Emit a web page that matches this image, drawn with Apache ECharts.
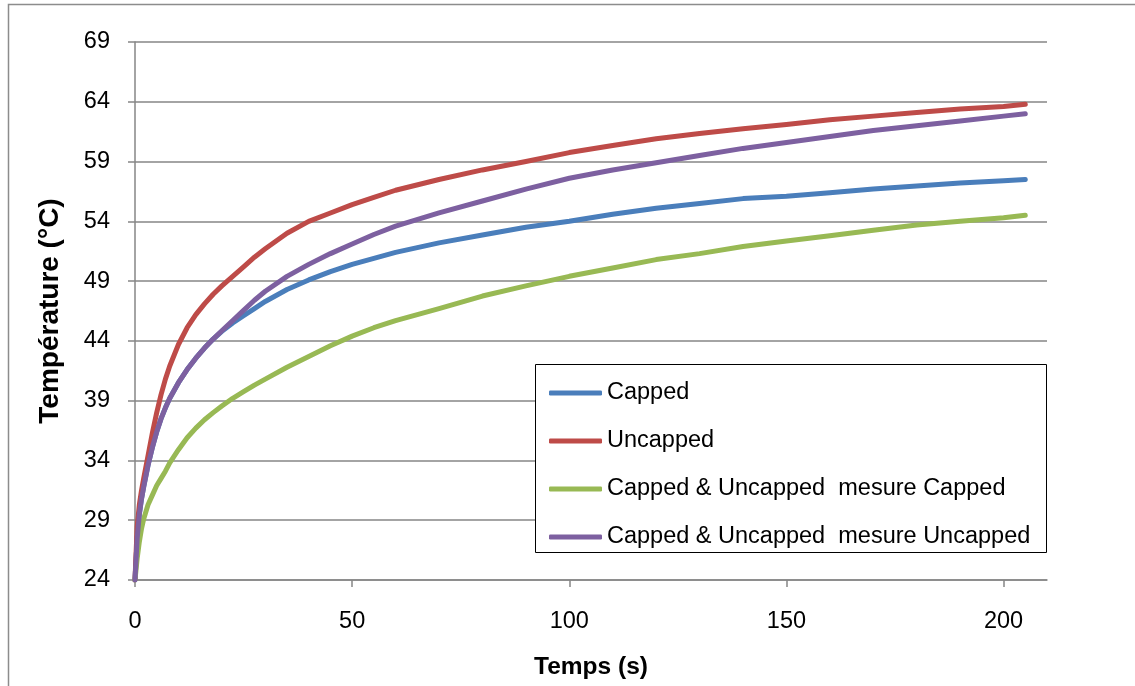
<!DOCTYPE html>
<html>
<head>
<meta charset="utf-8">
<script src="https://cdn.jsdelivr.net/npm/echarts@6/dist/echarts.min.js"></script>
<style>
html,body{margin:0;padding:0;background:#fff;}
#chart{width:1135px;height:686px;}
</style>
</head>
<body>
<div id="chart"></div>
<script>
var times = [0,0.5,1,1.5,2,3,4,5,6,7,8,10,12,14,16,18,20,22.5,25,27.5,30,35,40,45,50,55,60,70,80,90,100,110,120,130,140,150,160,170,180,190,200,205];
var capped = [24,27.5,29.5,30.8,31.8,33.6,35.1,36.4,37.5,38.4,39.2,40.5,41.6,42.55,43.4,44.15,44.8,45.5,46.1,46.7,47.3,48.3,49.1,49.8,50.4,50.9,51.4,52.2,52.85,53.5,54.0,54.6,55.1,55.5,55.9,56.1,56.4,56.7,56.95,57.2,57.4,57.5];
var uncapped = [24,28.5,30.3,31.5,32.5,34.4,36.3,38.0,39.5,40.8,41.9,43.7,45.1,46.2,47.1,47.9,48.6,49.4,50.2,51.0,51.7,53.0,54.0,54.7,55.4,56.0,56.6,57.5,58.3,59.0,59.75,60.35,60.9,61.35,61.75,62.1,62.5,62.8,63.1,63.4,63.6,63.8];
var mesureCapped = [24,25.8,27.2,28.3,29.1,30.3,31.1,31.9,32.5,33.1,33.8,34.9,35.9,36.7,37.4,38.0,38.55,39.2,39.75,40.3,40.8,41.8,42.7,43.6,44.4,45.1,45.7,46.7,47.75,48.6,49.4,50.1,50.8,51.3,51.9,52.35,52.8,53.25,53.7,54.0,54.3,54.5];
var mesureUncapped = [24,27.5,29.5,30.8,31.8,33.6,35.1,36.4,37.5,38.4,39.2,40.5,41.6,42.55,43.4,44.15,44.85,45.7,46.55,47.4,48.15,49.4,50.4,51.3,52.1,52.9,53.6,54.7,55.7,56.7,57.6,58.3,58.9,59.5,60.1,60.6,61.1,61.6,62.0,62.4,62.8,63.0];
var seriesNames = ['Capped','Uncapped','Capped & Uncapped  mesure Capped','Capped & Uncapped  mesure Uncapped'];
var seriesColors = ['#4a7ebb','#be4b48','#98b954','#7d60a0'];

function pairs(vals){ return times.map(function(t,i){ return [t, vals[i]]; }); }
var allVals = [capped, uncapped, mesureCapped, mesureUncapped];
var FONT = 'Liberation Sans';

var chart = echarts.init(document.getElementById('chart'));
chart.setOption({
  animation:false,
  backgroundColor:'#fff',
  textStyle:{fontFamily:FONT},
  grid:{left:135, top:42, right:88, bottom:106, containLabel:false},
  graphic:[
    {type:'rect', z:-10, shape:{x:8.5,y:4.5,width:1200,height:800}, style:{fill:'none', stroke:'#8c8c8c', lineWidth:1.5}},
    {type:'rect', z:3, shape:{x:535.5,y:364.5,width:511,height:188}, style:{fill:'#fff', stroke:'#000', lineWidth:1}}
  ],
  xAxis:{
    type:'value', min:0, max:210, interval:50,
    name:'Temps (s)', nameLocation:'middle', nameGap:75,
    nameTextStyle:{fontFamily:FONT, fontSize:24.5, fontWeight:'bold', color:'#000'},
    axisLine:{show:true, onZero:false, lineStyle:{color:'#868686', width:1.5}},
    axisTick:{show:true, inside:false, length:7, lineStyle:{color:'#868686', width:1.5}},
    axisLabel:{fontFamily:FONT, fontSize:23.5, color:'#000', margin:30, showMaxLabel:false},
    splitLine:{show:false}
  },
  yAxis:{
    type:'value', min:24, max:69, interval:5,
    name:'Température (°C)', nameLocation:'middle', nameGap:71, nameRotate:90,
    nameTextStyle:{fontFamily:FONT, fontSize:28, fontWeight:'bold', color:'#000'},
    axisLine:{show:true, lineStyle:{color:'#868686', width:1.5}},
    axisTick:{show:true, inside:false, length:7, lineStyle:{color:'#868686', width:1.5}},
    axisLabel:{fontFamily:FONT, fontSize:23.5, color:'#000', margin:25},
    splitLine:{show:true, lineStyle:{color:'#868686', width:1.5}}
  },
  legend:{
    orient:'vertical', left:549, top:381, padding:0,
    itemWidth:53, itemHeight:5, itemGap:24, icon:'roundRect',
    textStyle:{fontFamily:FONT, fontSize:23.5, color:'#000', lineHeight:24},
    data:seriesNames
  },
  series: seriesNames.map(function(n,i){
    return {
      name:n, type:'line', data:pairs(allVals[i]),
      smooth:false, showSymbol:false, symbol:'none',
      lineStyle:{color:seriesColors[i], width:5, cap:'round', join:'round'},
      itemStyle:{color:seriesColors[i]},
      z: 2
    };
  })
});
</script>
</body>
</html>
